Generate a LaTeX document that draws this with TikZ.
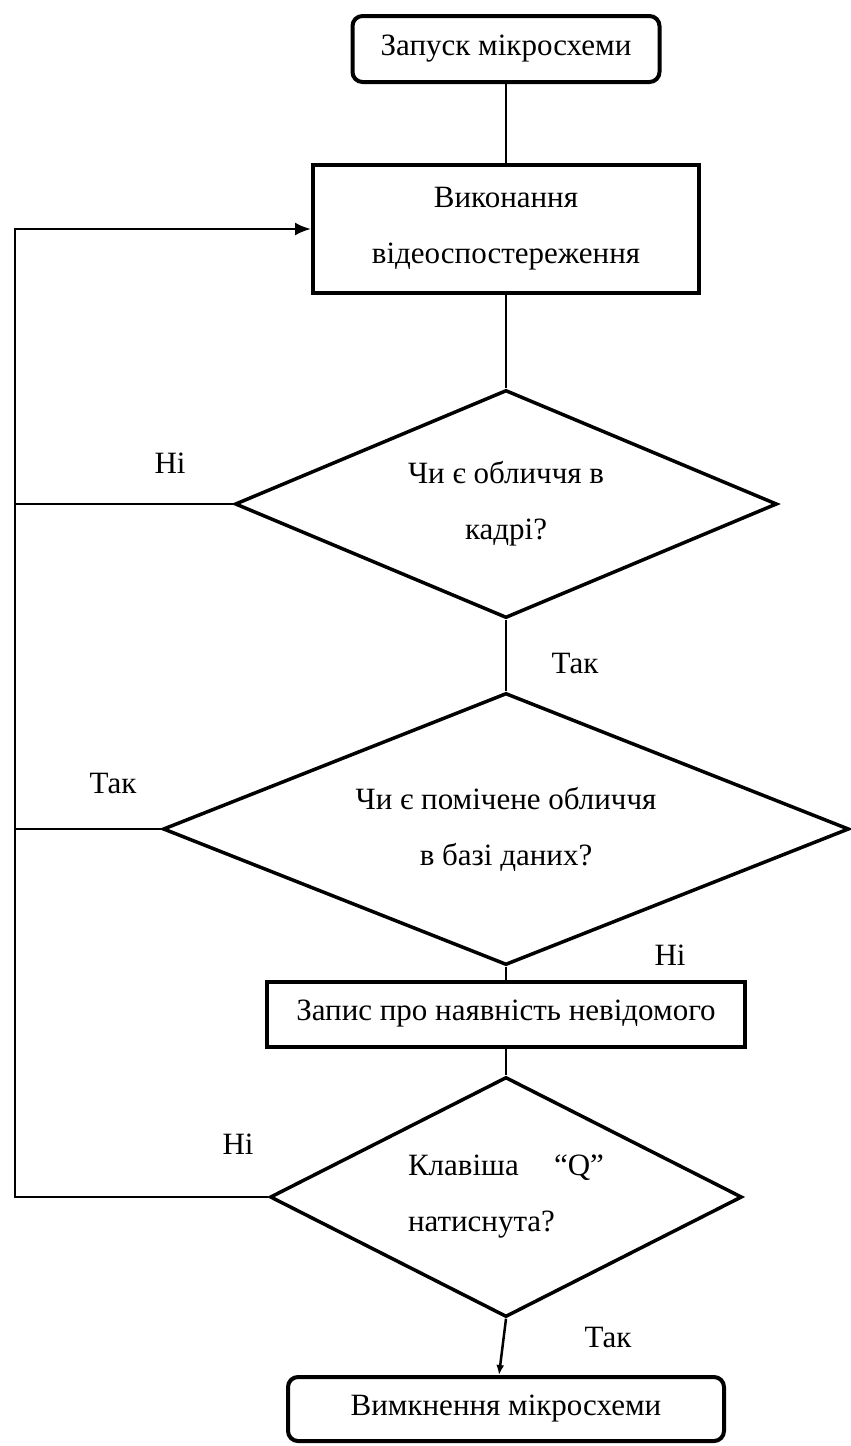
\documentclass[tikz,border=0pt]{standalone}
\usepackage{fontspec}
\setmainfont{Liberation Serif}
\usetikzlibrary{shapes.geometric,arrows.meta}

\begin{document}
\begin{tikzpicture}[
  x=1pt, y=-1pt,
  every node/.style={
    font=\fontsize{31}{56}\selectfont, inner sep=0pt,
  },
  term/.style={
    draw, rounded corners=10pt, line width=4pt,
    minimum width=#1, minimum height=66pt
  },
  proc/.style={
    draw, line width=4pt, align=center,
    minimum width=#1
  },
  decide/.style={
    diamond, draw, line width=3.5pt, align=center
  },
  line/.style={line width=2.5pt}
  ]
  \useasboundingbox (0,0) rectangle (851,1446);
  \node[term=307pt] (start) at (506,49) {Запуск мікросхеми};
  \node[proc=386pt, minimum height=128pt] (watch) at (506,229)
    {Виконання\\відеоспостереження};
  \node[decide, minimum width=542pt, minimum height=228pt, aspect=2.38]
    (face) at (506,504) {Чи є обличчя в\\кадрі?};
  \node[decide, minimum width=686pt, minimum height=272pt, aspect=2.54]
    (known) at (506,829) {Чи є помічене обличчя\\в базі даних?};
  \node[proc=478pt, minimum height=65pt] (note) at (506,1014)
    {Запис про наявність невідомого};
  \node[decide, minimum width=472pt, minimum height=240pt, aspect=1.97]
    (quit) at (506,1197)
    {\makebox[196pt]{Клавіша\hfill“Q”}\\\makebox[196pt][l]{натиснута?}};
  \node[term=436pt, minimum height=64pt] (stop) at (506,1409)
    {Вимкнення мікросхеми};
  \coordinate (loop) at (15,229);
  \node (no1) at (170,463) {Ні};
  \node (yes1) at (575,663) {Так};
  \node (yes2) at (113,783) {Так};
  \node (no2) at (670,955) {Ні};
  \node (no3) at (238,1144) {Ні};
  \node (yes3) at (608,1337) {Так};
  \draw[line] (start) -- (watch);
  \draw[line] (watch) -- (face);
  \draw[line] (face) -- (known);
  \draw[line] (known) -- (note);
  \draw[line] (note) -- (quit);
  \draw[line, -{Latex[length=10pt,width=8pt]}] (quit.south)
    -- ([xshift=-7pt]stop.north);
  \draw[line, -{Latex[length=16pt,width=13pt]}] (known.west) -| (loop)
    -- (loop -| watch.west);
  \draw[line] (face.west) -- (face.west -| loop);
  \draw[line] (quit.west) -| (known.west -| loop);
\end{tikzpicture}
\end{document}
